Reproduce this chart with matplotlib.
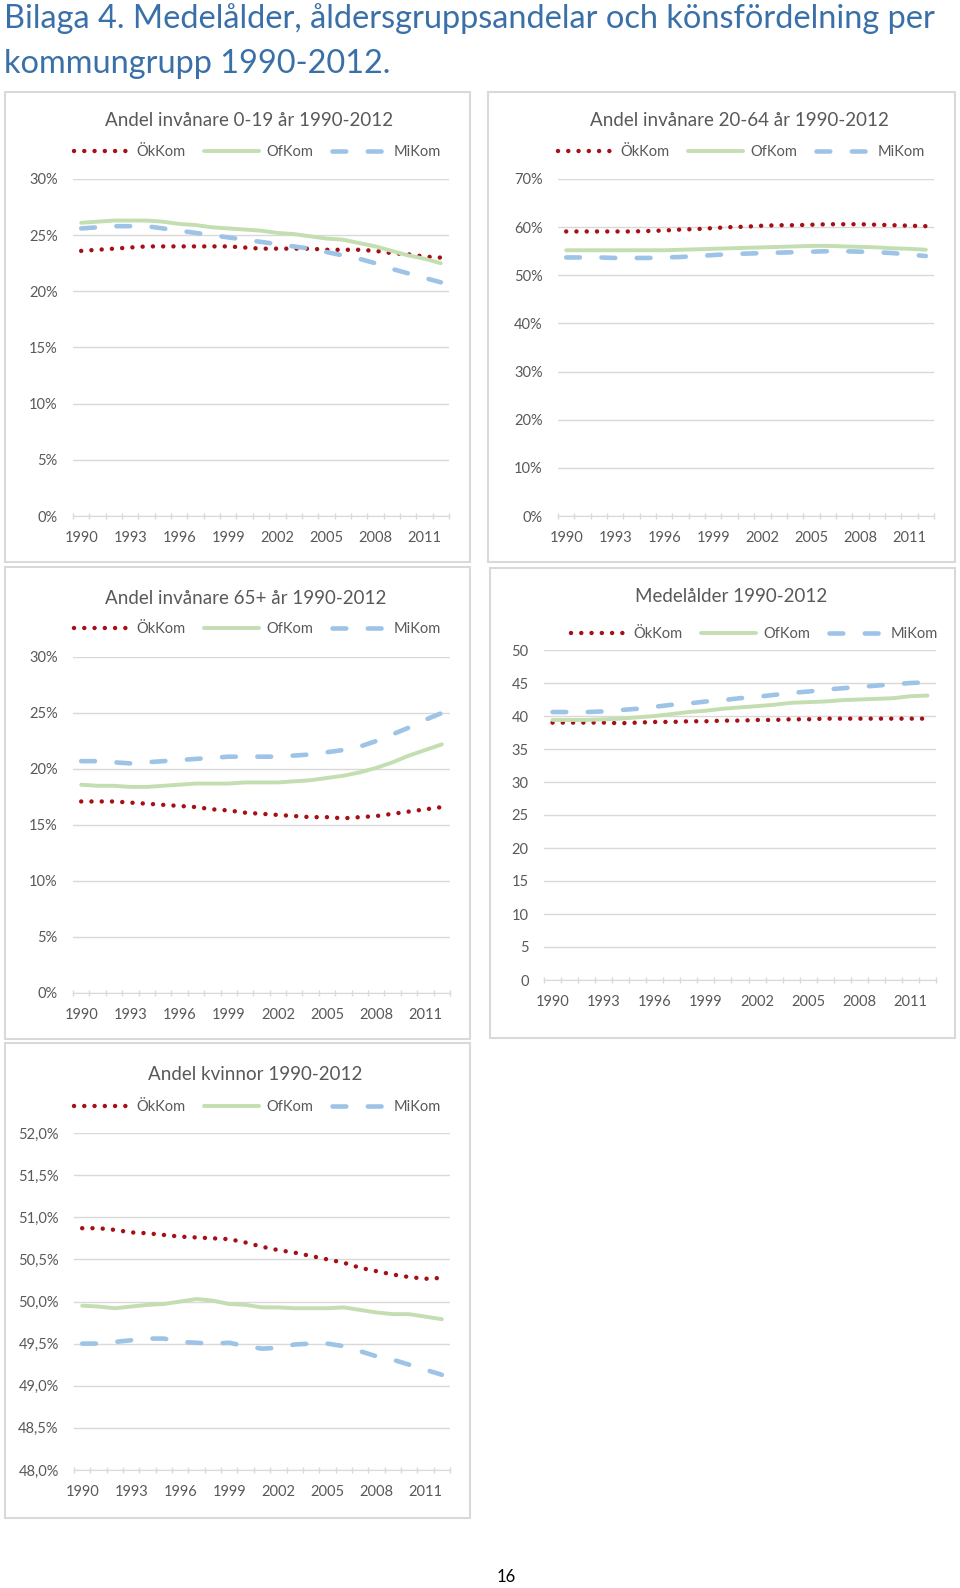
import matplotlib
matplotlib.use("Agg")
import matplotlib.pyplot as plt
from matplotlib.patches import Rectangle
from matplotlib.ticker import FuncFormatter

W, H = 960, 1588
plt.rcParams["font.family"] = ["Lato", "DejaVu Sans"]

years = list(range(1990, 2013))
groups = ["ÖkKom", "OfKom", "MiKom"]

# Andel invånare 0-19 år (%)
ung_okkom = [23.6, 23.7, 23.8, 23.9, 24.0, 24.0, 24.0, 24.0, 24.0, 24.0, 23.9, 23.8,
             23.8, 23.8, 23.8, 23.7, 23.7, 23.7, 23.6, 23.4, 23.3, 23.1, 23.0]
ung_ofkom = [26.1, 26.2, 26.3, 26.3, 26.3, 26.2, 26.0, 25.9, 25.7, 25.6, 25.5, 25.4,
             25.2, 25.1, 24.9, 24.7, 24.6, 24.3, 24.0, 23.6, 23.2, 22.9, 22.5]
ung_mikom = [25.6, 25.7, 25.8, 25.8, 25.8, 25.6, 25.4, 25.2, 25.0, 24.8, 24.6, 24.4,
             24.2, 24.0, 23.8, 23.5, 23.2, 22.9, 22.5, 22.0, 21.6, 21.2, 20.8]

# Andel invånare 20-64 år (%)
vuxen_okkom = [59.1, 59.1, 59.1, 59.1, 59.1, 59.2, 59.3, 59.5, 59.6, 59.8, 60.0, 60.1,
               60.3, 60.4, 60.4, 60.5, 60.6, 60.6, 60.6, 60.5, 60.4, 60.3, 60.2]
vuxen_ofkom = [55.2, 55.2, 55.2, 55.2, 55.2, 55.2, 55.2, 55.3, 55.4, 55.5, 55.6, 55.7,
               55.8, 55.9, 56.0, 56.1, 56.1, 56.0, 55.9, 55.8, 55.6, 55.5, 55.3]
vuxen_mikom = [53.7, 53.7, 53.7, 53.6, 53.6, 53.6, 53.7, 53.8, 54.0, 54.2, 54.4, 54.5,
               54.6, 54.7, 54.8, 54.9, 55.0, 55.0, 54.9, 54.8, 54.6, 54.3, 54.0]

# Andel invånare 65+ år (%)
aldre_okkom = [17.1, 17.1, 17.1, 17.0, 16.9, 16.8, 16.7, 16.6, 16.4, 16.3, 16.1, 16.0,
               15.9, 15.8, 15.7, 15.7, 15.6, 15.7, 15.8, 16.0, 16.2, 16.4, 16.6]
aldre_ofkom = [18.6, 18.5, 18.5, 18.4, 18.4, 18.5, 18.6, 18.7, 18.7, 18.7, 18.8, 18.8,
               18.8, 18.9, 19.0, 19.2, 19.4, 19.7, 20.1, 20.6, 21.2, 21.7, 22.2]
aldre_mikom = [20.7, 20.7, 20.6, 20.5, 20.6, 20.7, 20.8, 20.9, 21.0, 21.1, 21.1, 21.1,
               21.1, 21.2, 21.3, 21.5, 21.7, 22.0, 22.5, 23.1, 23.7, 24.4, 25.0]

# Medelålder (år)
alder_okkom = [39.0, 39.0, 39.0, 39.0, 38.9, 39.0, 39.1, 39.1, 39.2, 39.2, 39.3, 39.3,
               39.4, 39.4, 39.5, 39.5, 39.6, 39.6, 39.6, 39.6, 39.6, 39.6, 39.6]
alder_ofkom = [39.4, 39.4, 39.4, 39.5, 39.6, 39.8, 40.0, 40.3, 40.6, 40.8, 41.1, 41.3,
               41.5, 41.7, 42.0, 42.1, 42.2, 42.4, 42.5, 42.6, 42.7, 43.0, 43.1]
alder_mikom = [40.6, 40.6, 40.6, 40.7, 40.9, 41.1, 41.4, 41.7, 41.9, 42.2, 42.4, 42.7,
               42.9, 43.2, 43.5, 43.7, 44.0, 44.2, 44.4, 44.6, 44.8, 45.0, 45.1]

# Andel kvinnor (%)
kvinnor_okkom = [50.87, 50.87, 50.85, 50.82, 50.81, 50.79, 50.77, 50.76, 50.75, 50.74,
                 50.70, 50.65, 50.61, 50.58, 50.54, 50.50, 50.46, 50.40, 50.36, 50.32,
                 50.29, 50.27, 50.28]
kvinnor_ofkom = [49.95, 49.94, 49.92, 49.94, 49.96, 49.97, 50.00, 50.03, 50.01, 49.97,
                 49.96, 49.93, 49.93, 49.92, 49.92, 49.92, 49.93, 49.90, 49.87, 49.85,
                 49.85, 49.82, 49.79]
kvinnor_mikom = [49.50, 49.50, 49.52, 49.54, 49.56, 49.56, 49.52, 49.51, 49.50, 49.51,
                 49.47, 49.44, 49.45, 49.49, 49.50, 49.50, 49.47, 49.41, 49.35, 49.31,
                 49.25, 49.19, 49.13]

RED = "#A50F15"
GREEN = "#C3DEB0"
BLUE = "#9DC3E6"
GRID = "#D9D9D9"
TEXT = "#595959"
HEAD = "#3A70A8"


def fx(x):
    return x / W


def fy(y):
    return 1 - y / H


def panel(fig, box, plot, title, title_xy, legend_xy, series, ylim, step, fmt):
    l, t, r, b = box
    fig.add_artist(Rectangle((fx(l), fy(b)), (r - l) / W, (b - t) / H,
                             transform=fig.transFigure, fill=False,
                             edgecolor=GRID, lw=1.5))
    pl, pt, pr, pb = plot
    ax = fig.add_axes([fx(pl), fy(pb), (pr - pl) / W, (pb - pt) / H])

    ok, of, mi = series
    h1, = ax.plot(years, ok, color=RED, lw=3.2, ls=(0, (0.01, 2.3)),
                  dash_capstyle="round")
    h2, = ax.plot(years, of, color=GREEN, lw=2.8, solid_capstyle="round")
    h3, = ax.plot(years, mi, color=BLUE, lw=3.3, ls=(0, (3.0, 4.7)),
                  dash_capstyle="round")

    ax.set_xlim(1989.5, 2012.5)
    ax.set_ylim(*ylim)
    yt = []
    v = ylim[0]
    while v <= ylim[1] + 1e-9:
        yt.append(round(v, 3))
        v += step
    ax.set_yticks(yt)
    ax.yaxis.set_major_formatter(FuncFormatter(lambda v, p: fmt(v)))
    ax.set_xticks(years[::3])
    ax.set_xticks([y - 0.5 for y in years] + [2012.5], minor=True)
    ax.tick_params(axis="x", which="major", length=0, pad=11, labelsize=10.5,
                   labelcolor=TEXT)
    ax.tick_params(axis="x", which="minor", length=4, direction="inout",
                   color=GRID, width=1)
    ax.tick_params(axis="y", length=0, pad=11, labelsize=10.5, labelcolor=TEXT)
    ax.grid(axis="y", color=GRID, lw=1)
    ax.set_axisbelow(True)
    for s in ["left", "right", "top"]:
        ax.spines[s].set_visible(False)
    ax.spines["bottom"].set_color(GRID)

    fig.text(fx(title_xy[0]), fy(title_xy[1]), title, ha="center", va="center",
             fontsize=13.5, color=TEXT)
    fig.legend([h1, h2, h3], groups, loc="center left",
               bbox_to_anchor=(fx(legend_xy[0]), fy(legend_xy[1])), ncol=3,
               frameon=False, fontsize=10.5, handlelength=3.75,
               handletextpad=0.5, columnspacing=1.3, borderpad=0,
               borderaxespad=0, labelcolor=TEXT)
    return ax


def pct(v):
    return f"{v:.0f}%"


def pct1(v):
    return f"{v:.1f}%".replace(".", ",")


def num(v):
    return f"{v:.0f}"


fig = plt.figure(figsize=(W / 100, H / 100), dpi=100)

fig.text(fx(4), fy(19), "Bilaga 4. Medelålder, åldersgruppsandelar och könsfördelning per",
         ha="left", va="center", fontsize=23.4, color=HEAD)
fig.text(fx(4), fy(64), "kommungrupp 1990-2012.",
         ha="left", va="center", fontsize=23.4, color=HEAD)

panel(fig, (5, 92, 470, 562), (73, 179, 449, 516),
      "Andel invånare 0-19 år 1990-2012", (249, 120), (74, 152),
      (ung_okkom, ung_ofkom, ung_mikom), (0, 30), 5, pct)
panel(fig, (488, 92, 955, 562), (558, 179, 934, 516),
      "Andel invånare 20-64 år 1990-2012", (739, 120), (558, 152),
      (vuxen_okkom, vuxen_ofkom, vuxen_mikom), (0, 70), 10, pct)
panel(fig, (5, 567, 470, 1039), (73, 657, 450, 993),
      "Andel invånare 65+ år 1990-2012", (246, 598), (74, 629),
      (aldre_okkom, aldre_ofkom, aldre_mikom), (0, 30), 5, pct)
panel(fig, (490, 568, 955, 1038), (544, 650, 936, 980),
      "Medelålder 1990-2012", (731, 597), (571, 634),
      (alder_okkom, alder_ofkom, alder_mikom), (0, 50), 5, num)
panel(fig, (5, 1043, 470, 1518), (74, 1133, 450, 1470),
      "Andel kvinnor 1990-2012", (255, 1074), (74, 1107),
      (kvinnor_okkom, kvinnor_ofkom, kvinnor_mikom), (48, 52), 0.5, pct1)

fig.text(fx(506), fy(1577), "16", ha="center", va="center", fontsize=12,
         color="black")

fig.savefig("out.png", dpi=100)
